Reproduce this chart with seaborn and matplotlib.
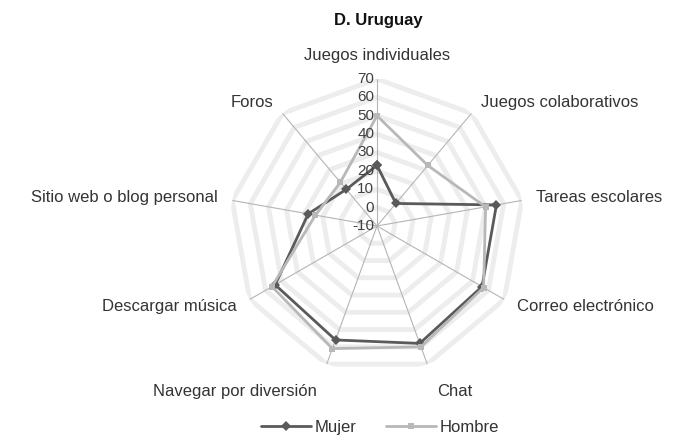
import numpy as np
import pandas as pd
import matplotlib
matplotlib.use("Agg")
import matplotlib.pyplot as plt
import seaborn as sns

# categories, clockwise from the top
categorias = [
    "Juegos individuales",
    "Juegos colaborativos",
    "Tareas escolares",
    "Correo electrónico",
    "Chat",
    "Navegar por diversión",
    "Descargar música",
    "Sitio web o blog personal",
    "Foros",
]
mujer = [23, 6, 56, 56, 58, 56, 54, 28, 16]
hombre = [50, 33, 50, 57, 60, 61, 56, 24, 21]
niveles = [-10, 0, 10, 20, 30, 40, 50, 60, 70]
titulo = "D. Uruguay"

sns.set_style("white")
plt.rcParams["font.family"] = ["Liberation Sans", "DejaVu Sans"]

n = len(categorias)
angulos = np.linspace(0, 2 * np.pi, n, endpoint=False)
ang_cerrado = np.append(angulos, 2 * np.pi)

# long table for seaborn, polygons closed by repeating the first point
filas = []
for serie, vals in [("Mujer", mujer), ("Hombre", hombre)]:
    v = vals + [vals[0]]
    for a, r in zip(ang_cerrado, v):
        filas.append({"theta": a, "valor": r, "Serie": serie})
df = pd.DataFrame(filas)

fig = plt.figure(figsize=(6.75, 4.4), dpi=100)
ax = fig.add_axes([0.3407, 0.1523, 0.4356, 0.6682], projection="polar")
ax.set_theta_zero_location("N")
ax.set_theta_direction(-1)
ax.set_ylim(-10, 70)
ax.grid(False)
ax.set_xticks([])
ax.set_yticks([])
ax.spines["polar"].set_visible(False)

# polygon rings and spokes
for lv in niveles[1:]:
    ax.plot(ang_cerrado, [lv] * (n + 1), color="#ededed", lw=3.5, zorder=1,
            solid_joinstyle="miter")
for a in angulos:
    ax.plot([a, a], [-10, 70], color="#b5b5b5", lw=0.8, zorder=2)

sns.lineplot(data=df, x="theta", y="valor", hue="Serie", style="Serie",
             palette={"Mujer": "#5a5a5a", "Hombre": "#b8b8b8"},
             markers={"Mujer": "D", "Hombre": "s"}, dashes=False,
             sort=False, estimator=None, units="Serie", lw=2,
             markersize=5, markeredgewidth=0, ax=ax, zorder=3,
             hue_order=["Mujer", "Hombre"])
ax.set_xlabel("")
ax.set_ylabel("")

# radial tick labels along the top spoke
for lv in niveles:
    ax.annotate(str(lv), xy=(0, lv), xytext=(-2, 0), textcoords="offset points",
                ha="right", va="center", fontsize=11, color="#404040")

# category labels
for a, cat in zip(angulos, categorias):
    s = np.sin(a)
    if abs(s) < 0.2:
        ha = "center"
    elif s > 0:
        ha = "left"
    else:
        ha = "right"
    r = 83 if abs(s) < 0.2 else 78
    if np.cos(a) < -0.9:
        r = 86
    ax.text(a, r, cat, ha=ha, va="center", fontsize=12, color="#333333")

fig.text(0.56, 0.953, titulo, ha="center", va="center", fontsize=12,
         fontweight="bold", color="#111111")

handles, labels = ax.get_legend_handles_labels()
ax.legend_.remove()
fig.legend(handles, labels, loc="center", bbox_to_anchor=(0.563, 0.028),
           ncol=2, frameon=False, fontsize=12, handlelength=3,
           handletextpad=0.2, columnspacing=1.8, labelcolor="#333333")

fig.savefig("out.png", dpi=100)
